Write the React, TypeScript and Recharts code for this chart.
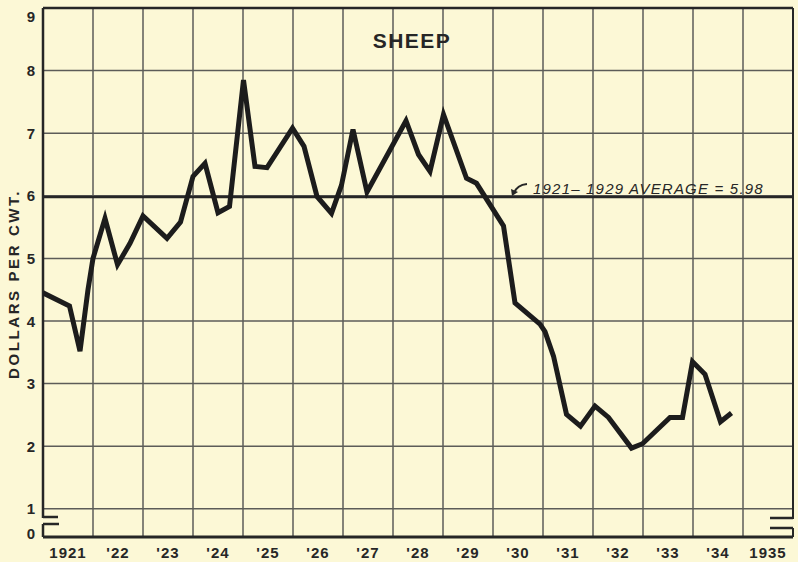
import React from "react";
import { LineChart, Line, XAxis, YAxis, CartesianGrid, ReferenceLine, Label } from "recharts";

// quarterly-ish farm price of sheep, dollars per cwt
const priceDates = [
  1921.0, 1921.53, 1921.74, 1921.9, 1922.0, 1922.24, 1922.49, 1922.74, 1923.0,
  1923.48, 1923.75, 1924.0, 1924.24, 1924.5, 1924.73, 1925.01, 1925.24, 1925.48,
  1925.99, 1926.22, 1926.48, 1926.77, 1926.97, 1927.2, 1927.48, 1928.26, 1928.51,
  1928.74, 1929.01, 1929.47, 1929.67, 1930.21, 1930.44, 1930.94, 1931.04, 1931.21,
  1931.47, 1931.75, 1932.04, 1932.31, 1932.77, 1932.99, 1933.54, 1933.79, 1933.99,
  1934.24, 1934.55, 1934.77,
];
const priceValues = [
  4.45, 4.24, 3.52, 4.5, 5.0, 5.64, 4.9, 5.24, 5.68,
  5.32, 5.58, 6.31, 6.52, 5.73, 5.83, 7.85, 6.47, 6.45,
  7.08, 6.79, 5.99, 5.72, 6.17, 7.06, 6.06, 7.2, 6.66,
  6.39, 7.3, 6.28, 6.2, 5.52, 4.29, 3.95, 3.83, 3.44,
  2.51, 2.32, 2.64, 2.46, 1.97, 2.04, 2.46, 2.46, 3.35,
  3.15, 2.39, 2.53,
];

const AVERAGE_1921_1929 = 5.98;

// year boundaries (grid) and the labels centred inside each year
const yearEdges = [1921, 1922, 1923, 1924, 1925, 1926, 1927, 1928, 1929, 1930, 1931, 1932, 1933, 1934, 1935, 1936];
const yearCentres = [1921.5, 1922.5, 1923.5, 1924.5, 1925.5, 1926.5, 1927.5, 1928.5, 1929.5, 1930.5, 1931.5, 1932.5, 1933.5, 1934.5, 1935.5];
const yearLabels = ["1921", "'22", "'23", "'24", "'25", "'26", "'27", "'28", "'29", "'30", "'31", "'32", "'33", "'34", "1935"];

// the axis is broken between 0 and 1, so zero sits at this compressed value
const ZERO_AT = 0.55;
const valueTicks = [ZERO_AT, 1, 2, 3, 4, 5, 6, 7, 8, 9];

const data = priceDates.map((t, i) => ({ t, price: priceValues[i] }));

const PAPER = "#fcf8d6";
const INK = "#262626";
const GRID = "#5c5c58";
const FONT = "'Liberation Sans', Arial, sans-serif";

const ValueTick = ({ x, y, payload }: any) => {
  const v = payload.value;
  // top and bottom labels sit a little inside the frame, as on the print
  const shift = v === 9 ? 7 : v === ZERO_AT ? -4 : 0;
  return (
    <text
      x={x + 6}
      y={y + shift}
      textAnchor="end"
      dominantBaseline="central"
      fontFamily={FONT}
      fontWeight="bold"
      fontSize={15}
      fill={INK}
    >
      {v === ZERO_AT ? "0" : String(v)}
    </text>
  );
};

const AverageLabel = ({ viewBox }: any) => {
  if (!viewBox) return null;
  const tipX = viewBox.x + 469;
  const tipY = viewBox.y - 1;
  return (
    <g>
      <path
        d={`M ${tipX + 15} ${tipY - 12} Q ${tipX + 5} ${tipY - 11} ${tipX + 2} ${tipY - 3}`}
        fill="none"
        stroke={INK}
        strokeWidth={2}
      />
      <path d={`M ${tipX} ${tipY} L ${tipX - 1} ${tipY - 7} L ${tipX + 6} ${tipY - 4} Z`} fill={INK} />
      <text
        x={viewBox.x + 490}
        y={viewBox.y - 3}
        fontFamily={FONT}
        fontStyle="italic"
        fontSize={15}
        letterSpacing={1.2}
        fill={INK}
      >
        1921– 1929 AVERAGE = 5.98
      </text>
    </g>
  );
};

const AxisTitle = ({ viewBox }: any) => {
  if (!viewBox) return null;
  const cx = 13;
  const cy = 284;
  return (
    <text
      x={cx}
      y={cy}
      transform={`rotate(-90 ${cx} ${cy})`}
      textAnchor="middle"
      dominantBaseline="central"
      fontFamily={FONT}
      fontWeight="bold"
      fontSize={15}
      letterSpacing={2.6}
      fill={INK}
    >
      DOLLARS PER CWT.
    </text>
  );
};

export default function App() {
  return (
    <div style={{ position: "absolute", left: 0, top: 0, width: 798, height: 562, background: PAPER }}>
      <LineChart width={798} height={562} data={data} margin={{ top: 8, right: 5, bottom: 0, left: 0 }}>
        <CartesianGrid vertical={false} stroke={GRID} strokeWidth={1.5} />
        {yearEdges.map((y) => (
          <ReferenceLine key={y} x={y} stroke={GRID} strokeWidth={1.5} />
        ))}
        <XAxis
          type="number"
          dataKey="t"
          domain={[1921, 1936]}
          ticks={yearCentres}
          tickFormatter={(_v: number, i: number) => yearLabels[i]}
          axisLine={false}
          tickLine={false}
          tickMargin={4}
          height={25}
          allowDataOverflow
          tick={{ fill: INK, fontFamily: FONT, fontWeight: "bold", fontSize: 15, letterSpacing: 1 }}
        />
        <YAxis
          type="number"
          domain={[ZERO_AT, 9]}
          ticks={valueTicks}
          axisLine={false}
          tickLine={false}
          tickMargin={8}
          width={43}
          allowDataOverflow
          tick={<ValueTick />}
        >
          <Label content={<AxisTitle />} />
        </YAxis>
        {/* frame */}
        <ReferenceLine y={9} stroke={INK} strokeWidth={2.5} />
        <ReferenceLine y={ZERO_AT} stroke={INK} strokeWidth={3} />
        <ReferenceLine x={1921} stroke={INK} strokeWidth={2.5} />
        <ReferenceLine x={1936} stroke={INK} strokeWidth={2} />
        <ReferenceLine y={AVERAGE_1921_1929} stroke={INK} strokeWidth={2.5} label={<AverageLabel />} />
        <Line
          type="linear"
          dataKey="price"
          stroke="#1c1c1c"
          strokeWidth={5}
          dot={false}
          activeDot={false}
          isAnimationActive={false}
        />
      </LineChart>
      {/* title and axis-break marks */}
      <svg width={798} height={562} style={{ position: "absolute", left: 0, top: 0, pointerEvents: "none" }}>
        <text x={412} y={48} textAnchor="middle" fontFamily={FONT} fontWeight="bold" fontSize={21} letterSpacing={1.5} fill={INK}>
          SHEEP
        </text>
        <rect x={40} y={518} width={6} height={6} fill={PAPER} />
        <path d="M 43 517 H 58 M 43 524 H 59" stroke={INK} strokeWidth={2.5} fill="none" />
        <rect x={790} y={519} width={6} height={9} fill={PAPER} />
        <path d="M 793 518 H 770 M 793 528 H 770" stroke={INK} strokeWidth={2.5} fill="none" />
      </svg>
    </div>
  );
}
